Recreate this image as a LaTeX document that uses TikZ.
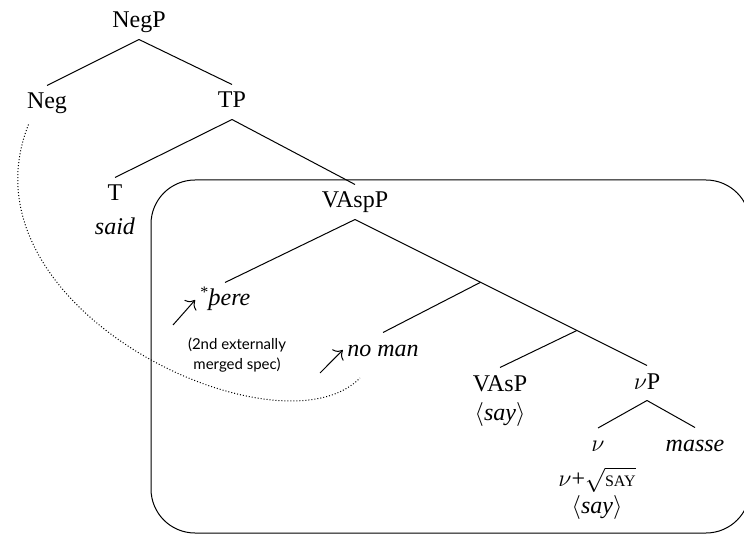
\documentclass[tikz,border=0pt]{standalone}
\usepackage{amsmath}
\usepackage{fontspec}
\setmainfont{Liberation Serif}
\newfontfamily\notefont{Lato}
\usetikzlibrary{arrows.meta}

\begin{document}
\begin{tikzpicture}[x=0.5pt, y=-0.5pt, line width=0.5pt,
  font=\fontsize{12}{15}\selectfont,
  cat/.style={inner sep=3pt, text height=8.5pt, text depth=2.5pt},
  low/.style={inner sep=0pt}]

\useasboundingbox (0, 0) rectangle (744, 534);

% the boxed part of the tree
\draw[rounded corners=22pt] (151, 180) rectangle (750, 533);

\node[cat] (NegP) at (139, 22) {NegP};
\node[cat] (Neg) at (47, 103) {Neg};
\node[cat] (TP) at (232, 102) {TP};
\node[cat] (T) at (115, 195) {T};
\node[low] (said) at (115, 226) {\textit{said}};
\node[cat] (VAspP) at (355, 202) {VAspP};
\node[cat] (thorn) at (225, 300) {\textit{\textsuperscript{*}þere}};
\node[cat] (noman) at (383, 350) {\textit{no man}};
\node[cat] (VAsP) at (500, 385) {VAsP};
\node[low] (VAsPsay) at (500, 414) {$\langle$\textit{say}$\rangle$};
\node[cat] (vP) at (647, 383) {$\nu$P};
\node[cat, inner ysep=0pt, text depth=0pt] (v) at (598, 443) {$\nu$};
\node[cat] (masse) at (695, 445) {\textit{masse}};
\node[low] (vroot) at (597, 480) {$\nu$+$\sqrt{\text{\footnotesize SAY}}$};
\node[low] (vsay) at (597, 507) {$\langle$\textit{say}$\rangle$};

\node[align=center, font=\notefont\fontsize{7.5}{10}\selectfont] (note) at (237, 355)
  {(2nd externally\\merged spec)};

\draw (NegP.south) -- (Neg.north);
\draw (NegP.south) -- (TP.north);
\draw (TP.south) -- (T.north);
\draw (TP.south) -- (VAspP.north);
\draw (VAspP.south) -- (thorn.north);
\draw (VAspP.south) -- coordinate[pos=0.43] (b1) coordinate[pos=0.76] (b2) (vP.north);
\draw (b1) -- (noman.north);
\draw (b2) -- (VAsP.north);
\draw (vP.south) -- ([yshift=3pt]v.north);
\draw (vP.south) -- (masse.north);

% movement arrows
\coordinate (up1) at (173, 325);
\coordinate (up2) at (320, 373);
\draw[-{To[scale=1.4]}] (up1) -- ([xshift=1pt]thorn.west);
\draw[-{To[scale=1.4]}] (up2) -- ([xshift=1pt]noman.west);

% Neg -- no man dependency
\coordinate (nmfoot) at (360, 378);
\draw[densely dotted] ([xshift=4pt, yshift=-2pt]Neg.south west)
  .. controls (-45, 310) and (280, 460) .. (nmfoot);

\end{tikzpicture}
\end{document}
